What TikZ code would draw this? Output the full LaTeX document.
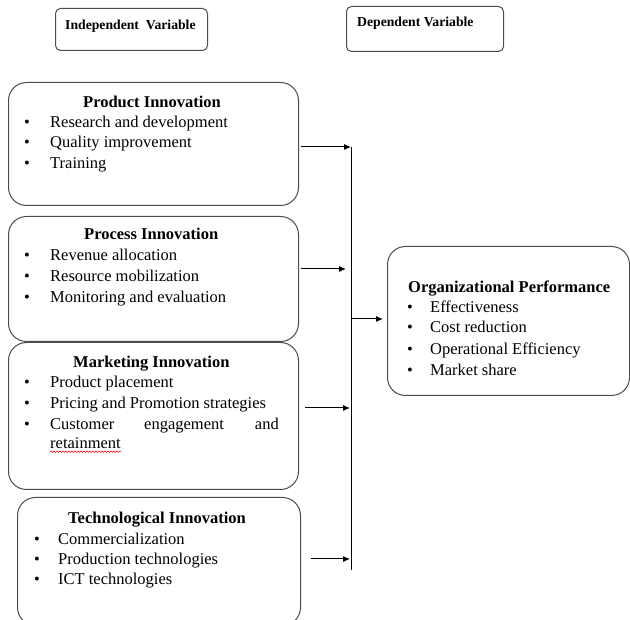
\documentclass[tikz,border=0pt]{standalone}
\usepackage{fontspec}
\setmainfont{Liberation Serif}
\usetikzlibrary{arrows.meta,decorations.pathmorphing,calc}
\begin{document}
\begin{tikzpicture}[x=1pt,y=-1pt,
  box/.style={draw=black!70,line width=1pt,rounded corners=18pt,anchor=north west,inner sep=0pt},
  hbox/.style={draw=black!70,line width=1pt,rounded corners=5pt,anchor=north west,inner sep=0pt},
  item/.style={anchor=mid west,inner sep=0pt,font=\fontsize{16.5}{20}\selectfont},
  bul/.style={anchor=mid,inner sep=0pt,font=\fontsize{16.5}{20}\selectfont},
  ttl/.style={anchor=mid west,inner sep=0pt,font=\fontsize{16.5}{20}\selectfont\bfseries},
  hdr/.style={anchor=mid west,inner sep=0pt,font=\fontsize{13.7}{16}\selectfont\bfseries},
  arr/.style={-{Latex[length=7pt,width=6pt]},line width=1pt,black}]
\useasboundingbox (0,0) rectangle (630,620);

% header boxes
\node[hbox,minimum width=152pt,minimum height=42pt] (ivbox) at (55,8) {};
\node[hdr] (ivtxt) at (65,27) {Independent\ \ Variable};
\node[hbox,minimum width=157pt,minimum height=45pt] (dvbox) at (346,6) {};
\node[hdr] (dvtxt) at (357,24) {Dependent Variable};

% independent boxes
\node[box,minimum width=290pt,minimum height=123pt] (prod) at (8,82) {};
\node[box,minimum width=290pt,minimum height=125pt] (proc) at (8,216) {};
\node[box,minimum width=290pt,minimum height=147pt] (mark) at (8,342) {};
\node[box,minimum width=283pt,minimum height=128pt] (tech) at (17,497) {};
% dependent box
\node[box,minimum width=242pt,minimum height=149pt] (org) at (387,246) {};

% Product Innovation
\node[ttl] (t1) at (83,105) {Product Innovation};
\node[bul] (b11) at (27,125) {\textbullet};
\node[item] (i11) at (50,125) {Research and development};
\node[bul] (b12) at (27,145) {\textbullet};
\node[item] (i12) at (50,145) {Quality improvement};
\node[bul] (b13) at (27,166) {\textbullet};
\node[item] (i13) at (50,166) {Training};

% Process Innovation
\node[ttl] (t2) at (84,237) {Process Innovation};
\node[bul] (b21) at (27,258) {\textbullet};
\node[item] (i21) at (50,258) {Revenue allocation};
\node[bul] (b22) at (27,279) {\textbullet};
\node[item] (i22) at (50,279) {Resource mobilization};
\node[bul] (b23) at (27,300) {\textbullet};
\node[item] (i23) at (50,300) {Monitoring and evaluation};

% Marketing Innovation
\node[ttl] (t3) at (73,365) {Marketing Innovation};
\node[bul] (b31) at (27,385) {\textbullet};
\node[item] (i31) at (50,385) {Product placement};
\node[bul] (b32) at (27,406) {\textbullet};
\node[item] (i32) at (50,406) {Pricing and Promotion strategies};
\node[bul] (b33) at (27,427) {\textbullet};
\node[item] (i33a) at (50,427) {Customer};
\node[item] (i33b) at (144,427) {engagement};
\node[item,anchor=mid east] (i33c) at (279,427) {and};
\node[item] (i34) at (50,446) {retainment};
\draw[red,line width=0.5pt,decorate,decoration={snake,amplitude=0.8pt,segment length=3pt}]
  ($(i34.south west)+(0,3)$) -- ($(i34.south east)+(0,3)$);

% Technological Innovation
\node[ttl] (t4) at (68,521) {Technological Innovation};
\node[bul] (b41) at (37,542) {\textbullet};
\node[item] (i41) at (58,542) {Commercialization};
\node[bul] (b42) at (37,562) {\textbullet};
\node[item] (i42) at (58,562) {Production technologies};
\node[bul] (b43) at (37,582) {\textbullet};
\node[item] (i43) at (58,582) {ICT technologies};

% Organizational Performance
\node[ttl] (t5) at (408,290) {Organizational Performance};
\node[bul] (b51) at (410,310) {\textbullet};
\node[item] (i51) at (430,310) {Effectiveness};
\node[bul] (b52) at (410,330) {\textbullet};
\node[item] (i52) at (430,330) {Cost reduction};
\node[bul] (b53) at (410,352) {\textbullet};
\node[item] (i53) at (430,352) {Operational Efficiency};
\node[bul] (b54) at (410,373) {\textbullet};
\node[item] (i54) at (430,373) {Market share};

% connectors
\coordinate (vtop) at (351,147);
\coordinate (vbot) at (351,570);
\coordinate (vmid) at (351,319);
\coordinate (a1s) at (301,147);
\coordinate (a2s) at (301,269);
\coordinate (a2e) at (346,269);
\coordinate (a3s) at (305,408);
\coordinate (a3e) at (350,408);
\coordinate (a4s) at (311,559);
\coordinate (a4e) at (350,559);
\coordinate (a5e) at (383,319);
\draw[line width=1pt] (vtop) -- (vbot);
\draw[arr] (a1s) -- (vtop);
\draw[arr] (a2s) -- (a2e);
\draw[arr] (a3s) -- (a3e);
\draw[arr] (a4s) -- (a4e);
\draw[arr] (vmid) -- (a5e);
\end{tikzpicture}
\end{document}
